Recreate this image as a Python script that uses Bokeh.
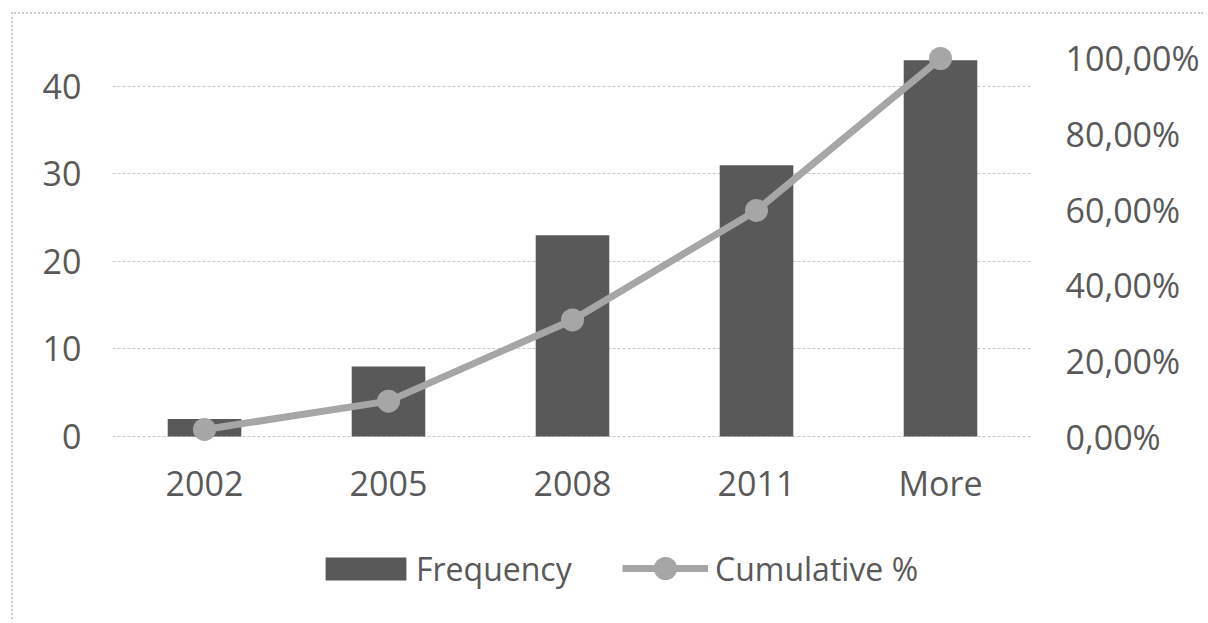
from bokeh.plotting import figure
from bokeh.models import (Range1d, FactorRange, LinearAxis, FixedTicker, Legend, LegendItem,
                          ColumnDataSource)
from bokeh.embed import file_html
from bokeh.resources import INLINE

categories = ["2002", "2005", "2008", "2011", "More"]
frequency = [2, 8, 23, 31, 43]
cumulative_pct = [1.87, 9.35, 30.84, 59.81, 100.0]
left_ticks = [0, 10, 20, 30, 40]
right_ticks = [0, 20, 40, 60, 80, 100]
right_tick_labels = ["0,00%", "20,00%", "40,00%", "60,00%", "80,00%", "100,00%"]

FONT = "Open Sans"
FS = "34px"
TXT = "#595959"
BAR = "#595959"
LINE = "#a6a6a6"

src = ColumnDataSource(dict(cat=categories, freq=frequency, cum=cumulative_pct))

# left axis: 0..43.2 units spans the same height as 0..100 %
p = figure(width=1192, height=607, output_backend="svg", toolbar_location=None,
           x_range=FactorRange(factors=categories, range_padding=0),
           y_range=Range1d(-19.2, 45.257),
           min_border_left=99, min_border_right=173, min_border_top=26, min_border_bottom=17)
p.extra_y_ranges = {"pct": Range1d(-44.44, 104.76)}
p.outline_line_color = None
p.background_fill_color = "white"
p.border_fill_color = "white"
p.styles = {"border-left": "2px dotted #cccccc", "border-top": "2px dotted #cccccc",
            "margin-left": "11px", "margin-top": "12px"}

bars = p.vbar(x="cat", top="freq", width=0.4, source=src, fill_color=BAR, line_color=None)
ln = p.line(x="cat", y="cum", source=src, y_range_name="pct", line_color=LINE, line_width=7)
pts = p.scatter(x="cat", y="cum", source=src, y_range_name="pct", size=23,
                fill_color=LINE, line_color=None)

# axes
xa = p.xaxis[0]
xa.fixed_location = 0
xa.axis_line_color = None
xa.major_tick_line_color = None
xa.minor_tick_line_color = None
xa.major_label_standoff = 18
xa.major_label_text_font = FONT
xa.major_label_text_font_size = FS
xa.major_label_text_color = TXT

ya = p.yaxis[0]
ya.ticker = FixedTicker(ticks=left_ticks)
ya.axis_line_color = None
ya.major_tick_line_color = None
ya.minor_tick_line_color = None
ya.major_label_standoff = 25
ya.major_label_text_font = FONT
ya.major_label_text_font_size = FS
ya.major_label_text_color = TXT

ra = LinearAxis(y_range_name="pct", ticker=FixedTicker(ticks=right_ticks),
                major_label_overrides={t: l for t, l in zip(right_ticks, right_tick_labels)})
ra.axis_line_color = None
ra.major_tick_line_color = None
ra.minor_tick_line_color = None
ra.major_label_standoff = 27
ra.major_label_text_font = FONT
ra.major_label_text_font_size = FS
ra.major_label_text_color = TXT
p.add_layout(ra, "right")

p.xgrid.grid_line_color = None
p.ygrid.ticker = FixedTicker(ticks=left_ticks)
p.ygrid.grid_line_color = "#c8c8c8"
p.ygrid.grid_line_dash = "3 2"
p.ygrid.grid_line_width = 1

common = dict(orientation="horizontal", padding=0, margin=0, border_line_color=None,
              background_fill_alpha=0, label_text_font=FONT, label_text_font_size="32px",
              label_text_color=TXT)
leg1 = Legend(items=[LegendItem(label="Frequency", renderers=[bars])],
              location=(203, 14), glyph_width=101, glyph_height=29, label_height=29,
              label_standoff=0, **common)
leg2 = Legend(items=[LegendItem(label="Cumulative %", renderers=[ln, pts])],
              location=(510, 7), glyph_width=86, glyph_height=58, label_height=58,
              label_standoff=7, **common)
p.add_layout(leg1, "center")
p.add_layout(leg2, "center")

open("out.html", "w").write(file_html(p, INLINE))
